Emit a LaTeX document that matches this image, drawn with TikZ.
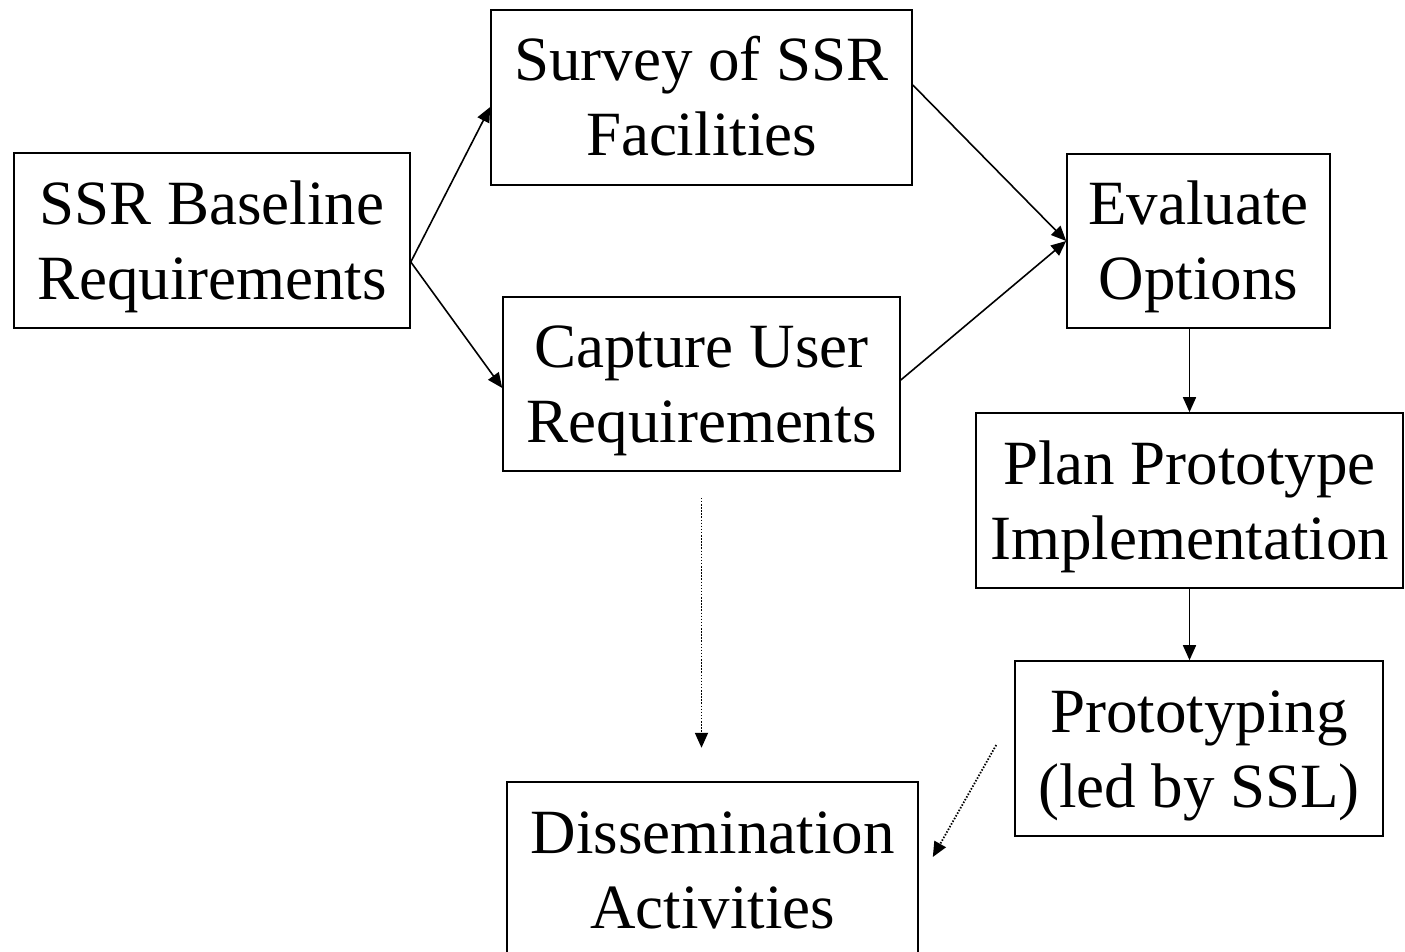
\documentclass[tikz,border=0pt]{standalone}
\usepackage{fontspec}
\setmainfont{Liberation Serif}
\usetikzlibrary{arrows.meta}
\begin{document}
\begin{tikzpicture}[x=1pt,y=-1pt,
  box/.style={draw=black,line width=1.6pt,inner sep=0pt,align=center,
    text height=127pt,text depth=10pt,
    font=\fontsize{63}{75}\selectfont},
  arr/.style={line width=1.6pt,-{Triangle[length=15pt,width=13pt]}},
  dotarr/.style={line width=1.8pt,dash pattern=on 1.5pt off 1.6pt,-{Triangle[length=15pt,width=13pt]}}]
\useasboundingbox (0,0) rectangle (1405,952);
\clip (0,0) rectangle (1405,952);
\node[box,minimum width=396pt,minimum height=175pt] (base) at (212,240.5) {SSR Baseline\\Requirements};
\node[box,minimum width=421pt,minimum height=175pt] (survey) at (701.5,97.5) {Survey of SSR\\Facilities};
\node[box,minimum width=397pt,minimum height=174pt] (capture) at (701.5,384) {Capture User\\Requirements};
\node[box,minimum width=263pt,minimum height=174pt] (eval) at (1198.5,241) {Evaluate\\Options};
\node[box,minimum width=427pt,minimum height=175pt] (plan) at (1189.5,500.5) {Plan Prototype\\Implementation};
\node[box,minimum width=368pt,minimum height=175pt] (proto) at (1199,748.5) {Prototyping\\(led by SSL)};
\node[box,minimum width=411pt,minimum height=175pt] (dissem) at (712.5,869.5) {Dissemination\\Activities};
\draw[arr] ([yshift=-21.5pt]base.east) -- ([yshift=-9.5pt]survey.west);
\draw[arr] ([yshift=-21.5pt]base.east) -- ([yshift=-4pt]capture.west);
\draw[arr] ([yshift=12.5pt]survey.east) -- (eval.west);
\draw[arr] ([yshift=4pt]capture.east) -- (eval.west);
\draw[arr] (eval.south -| plan.north) -- (plan.north);
\draw[arr] (plan.south) -- (plan.south |- proto.north);
\draw[dotarr] ([yshift=-26pt]capture.south) -- ([yshift=-276pt]capture.south);
\draw[dotarr] ([shift={(-18pt,3.5pt)}]proto.west) -- ([shift={(14pt,12.5pt)}]dissem.east);
\end{tikzpicture}
\end{document}
